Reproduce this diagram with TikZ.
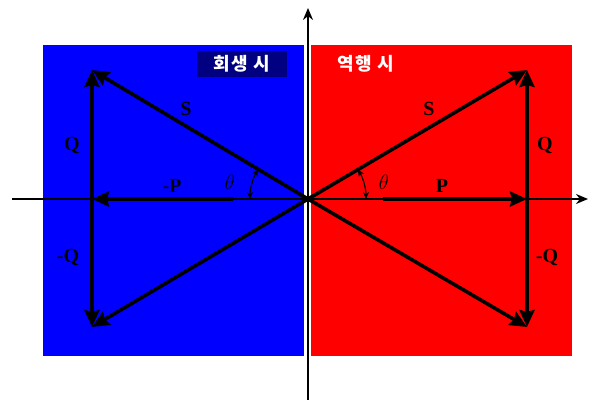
\documentclass[tikz,border=0pt]{standalone}
\usepackage{fontspec}
\setmainfont{Liberation Serif}
\newfontfamily\kr{Noto Sans CJK KR}
\usetikzlibrary{arrows.meta}
\definecolor{navy}{RGB}{0,0,128}
\begin{document}
\begin{tikzpicture}[x=1pt,y=-1pt,
  vec/.style={line width=3.6pt,-{Stealth[length=17pt,width=15pt,inset=2pt]}},
  axis/.style={line width=1.8pt,-{Stealth[length=12pt,width=10pt]}},
  lbl/.style={font=\fontsize{20}{20}\selectfont\bfseries},
  ang/.style={line width=1.2pt,{Stealth[length=7pt,width=6pt]}-{Stealth[length=7pt,width=6pt]}}]
\useasboundingbox (0,0) rectangle (607,401);
\fill[blue] (43,45) rectangle (304,356);
\fill[red] (311,45) rectangle (572,356);
\node[fill=navy,minimum width=90pt,minimum height=26pt,inner sep=0pt,text=white,font=\kr\bfseries\fontsize{18}{18}\selectfont] (lt) at (242,64) {회\hspace{1pt}생\hspace{2pt} 시};
\node[text=white,font=\kr\bfseries\fontsize{18}{18}\selectfont] (rt) at (366,64) {역\hspace{1pt}행\hspace{2pt} 시};
\coordinate (O) at (308,199);
\coordinate (vb) at (308,400);
\coordinate (vt) at (308,8);
\coordinate (hl) at (12,199);
\coordinate (hr) at (588,199);
\draw[axis] (vb) -- (vt);
\draw[axis] (hl) -- (hr);
\coordinate (RS) at (527,70);
\coordinate (RP) at (527,199);
\coordinate (RN) at (527,327);
\coordinate (LS) at (92,70);
\coordinate (LP) at (92,199);
\coordinate (LN) at (92,327);
\coordinate (Lm) at (233,199);
\coordinate (Rm) at (383,199);
% right
\draw[vec] (O) -- (RS);
\draw[vec] (O) -- (RN);
\draw[line width=1pt] (O) -- (Rm);
\draw[vec] (Rm) -- (RP);
\draw[vec] (RP) -- (RS);
\draw[vec] (RP) -- (RN);
% left
\draw[vec] (O) -- (LS);
\draw[vec] (O) -- (LN);
\draw[line width=1pt] (O) -- (Lm);
\draw[vec] (Lm) -- (LP);
\draw[vec] (LP) -- (LS);
\draw[vec] (LP) -- (LN);
% angles
\draw[ang] ([shift={(180:58)}]O) arc[start angle=180,end angle=210.8,radius=58];
\draw[ang] ([shift={(0:58)}]O) arc[start angle=0,end angle=-30.8,radius=58];
\node[font=\fontsize{22}{22}\selectfont] (tl) at (230,182) {$\theta$};
\node[font=\fontsize{22}{22}\selectfont] (tr) at (384,182) {$\theta$};
% labels
\node[lbl] (sl) at (186,109) {S};
\node[lbl] (sr) at (429,109) {S};
\node[lbl] (ql) at (72,145) {Q};
\node[lbl] (qr) at (545,145) {Q};
\node[lbl] (pl) at (172,186) {-P};
\node[lbl] (pr) at (442,186) {P};
\node[lbl] (nl) at (68,257) {-Q};
\node[lbl] (nr) at (547,257) {-Q};
\end{tikzpicture}
\end{document}
